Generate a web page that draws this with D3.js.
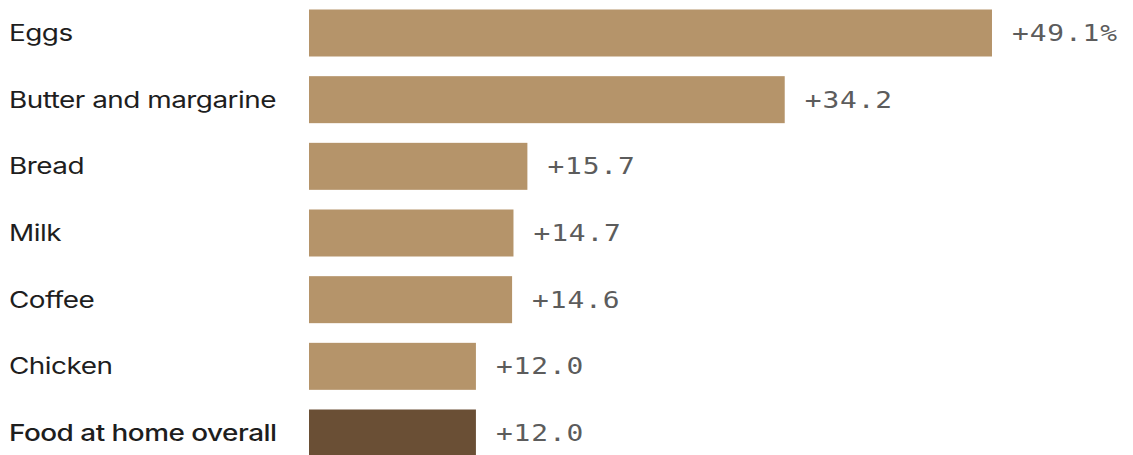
<!DOCTYPE html>
<html>
<head>
<meta charset="utf-8">
<script src="https://cdn.jsdelivr.net/npm/d3@7"></script>
<style>
  html, body { margin: 0; padding: 0; background: #ffffff; }
  svg { display: block; }
</style>
</head>
<body>
<svg id="chart" width="1133" height="455"></svg>
<script>
// Year-over-year price change, percent
const categories = ["Eggs", "Butter and margarine", "Bread", "Milk", "Coffee", "Chicken", "Food at home overall"];
const changes = [49.1, 34.2, 15.7, 14.7, 14.6, 12.0, 12.0];
const valueLabels = ["+49.1%", "+34.2", "+15.7", "+14.7", "+14.6", "+12.0", "+12.0"];
const highlight = "Food at home overall";

const rows = categories.map((c, i) => ({ category: c, value: changes[i], label: valueLabels[i] }));

const svg = d3.select("#chart");

const x = d3.scaleLinear().domain([0, 50]).range([309, 1004.5]);
const y = d3.scaleBand().domain(categories).range([9.5, 456.5]).paddingInner(0.295).paddingOuter(0);
const mid = d => y(d.category) + y.bandwidth() / 2;

const row = svg.selectAll("g.row")
  .data(rows)
  .join("g")
  .attr("class", "row");

row.append("rect")
  .attr("x", x(0))
  .attr("y", d => y(d.category))
  .attr("width", d => x(d.value) - x(0))
  .attr("height", y.bandwidth())
  .attr("fill", d => d.category === highlight ? "#6a4f35" : "#b5946a");

// category names, set in a wide-stretched grotesque
row.append("text")
  .attr("transform", d => `translate(9,${mid(d)}) scale(1.24,1)`)
  .attr("dy", "0.36em")
  .attr("font-family", "Inter, 'Noto Sans', sans-serif")
  .attr("font-size", 22.5)
  .attr("letter-spacing", "-0.4px")
  .attr("font-weight", d => d.category === highlight ? 500 : 400)
  .attr("fill", "#1e1e1e")
  .text(d => d.category);

// value labels in a monospace face
row.append("text")
  .attr("transform", d => `translate(${x(d.value) + 20},${mid(d)}) scale(1.24,1)`)
  .attr("dy", "0.36em")
  .attr("font-family", "'DejaVu Sans Mono', monospace")
  .attr("font-size", 22.5)
  .attr("letter-spacing", "0.7px")
  .attr("fill", "#5c5c5c")
  .text(d => d.label);
</script>
</body>
</html>
